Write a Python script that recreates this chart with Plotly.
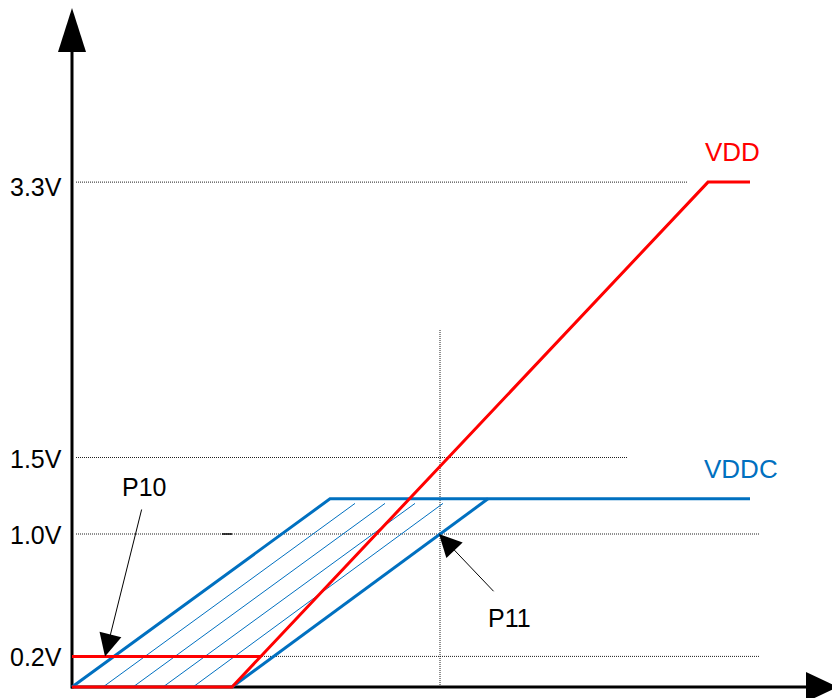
import plotly.graph_objects as go

# --- diagram data (time in arbitrary units, voltage in V) ---
vdd_t = [0, 160, 636, 678]
vdd_v = [0, 0, 3.3, 3.3]

vdd_p10_t = [0, 189]
vdd_p10_v = [0.2, 0.2]

vddc_fast_t = [0, 258, 678]
vddc_fast_v = [0, 1.23, 1.23]
vddc_slow_t = [160, 416]
vddc_slow_v = [0, 1.23]

hatch_start_t = [31, 61, 91, 121]
hatch_end_t = [283, 313, 343, 371]
hatch_end_v = 1.2

ref_levels = [3.3, 1.5, 1.0, 0.2]
ref_labels = ['3.3V', '1.5V', '1.0V', '0.2V']
ref_end_t = [616, 556, 688, 688]

p11_t = 368
p11_top_v = 2.34

RED = '#FF0000'
BLUE = '#0070C0'
GRID = '#202020'
FONT = 'Liberation Sans, Arial, sans-serif'

fig = go.Figure()

# dotted reference levels
for lv, te in zip(ref_levels, ref_end_t):
    fig.add_trace(go.Scatter(x=[4, te], y=[lv, lv], mode='lines',
                             line=dict(color=GRID, width=1, dash='1px,1px'),
                             hoverinfo='skip'))
fig.add_trace(go.Scatter(x=[p11_t, p11_t], y=[0, p11_top_v], mode='lines',
                         line=dict(color=GRID, width=1, dash='1px,1px'),
                         hoverinfo='skip'))
# small stray tick on the 1.0V level
fig.add_trace(go.Scatter(x=[150, 160], y=[1.0, 1.0], mode='lines',
                         line=dict(color='black', width=1.5), hoverinfo='skip'))

# axes
fig.add_trace(go.Scatter(x=[0, 0], y=[-0.01, 4.16], mode='lines',
                         line=dict(color='black', width=3), hoverinfo='skip'))
fig.add_trace(go.Scatter(x=[-1, 736], y=[0, 0], mode='lines',
                         line=dict(color='black', width=3), hoverinfo='skip'))

# hatching between VDDC limits
for t0, t1 in zip(hatch_start_t, hatch_end_t):
    fig.add_trace(go.Scatter(x=[t0, t1], y=[0, hatch_end_v], mode='lines',
                             line=dict(color=BLUE, width=1), hoverinfo='skip'))

# VDDC limits
fig.add_trace(go.Scatter(x=vddc_fast_t, y=vddc_fast_v, mode='lines',
                         line=dict(color=BLUE, width=3)))
fig.add_trace(go.Scatter(x=vddc_slow_t, y=vddc_slow_v, mode='lines',
                         line=dict(color=BLUE, width=3)))

# VDD
fig.add_trace(go.Scatter(x=vdd_p10_t, y=vdd_p10_v, mode='lines',
                         line=dict(color=RED, width=3)))
fig.add_trace(go.Scatter(x=vdd_t, y=vdd_v, mode='lines',
                         line=dict(color=RED, width=3)))

# axis arrowheads
fig.add_shape(type='path', path='M 0 4.438 L -14 4.15 L 14 4.15 Z',
              xref='x', yref='y', fillcolor='black', line=dict(width=0))
fig.add_shape(type='path', path='M 766 0 L 734 0.098 L 734 -0.098 Z',
              xref='x', yref='y', fillcolor='black', line=dict(width=0))

annotations = []
for lv, lab in zip(ref_levels, ref_labels):
    annotations.append(dict(x=-8, y=lv, text=lab, showarrow=False, xanchor='right',
                            yanchor='middle', yshift=-5 if lv == 3.3 else -1,
                            font=dict(family=FONT, size=25, color='black')))
annotations += [
    dict(x=660, y=3.3, text='VDD', showarrow=False, yshift=30,
         font=dict(family=FONT, size=26, color=RED)),
    dict(x=669, y=1.23, text='VDDC', showarrow=False, yshift=30,
         font=dict(family=FONT, size=26, color=BLUE)),
    dict(x=71.5, y=1.304, text='P10', showarrow=False,
         font=dict(family=FONT, size=25, color='black')),
    dict(x=437.5, y=0.448, text='P11', showarrow=False,
         font=dict(family=FONT, size=25, color='black')),
    dict(x=33, y=0.2, ax=70, ay=1.17, axref='x', ayref='y', text='',
         showarrow=True, arrowhead=2, arrowsize=4.5, arrowwidth=1, arrowcolor='black'),
    dict(x=367, y=1.0, ax=423, ay=0.616, axref='x', ayref='y', text='',
         showarrow=True, arrowhead=2, arrowsize=4.5, arrowwidth=1, arrowcolor='black'),
]

# the page puts the figure 8px in from the top-left corner, so the ranges
# are offset to keep the drawing where the reference has it
fig.update_layout(
    width=840, height=698,
    margin=dict(l=0, r=0, t=0, b=0),
    paper_bgcolor='white', plot_bgcolor='white',
    showlegend=False,
    xaxis=dict(range=[-64, 776], visible=False),
    yaxis=dict(range=[-0.1242, 4.438], visible=False),
    annotations=annotations,
)

fig.write_html("out.html")
